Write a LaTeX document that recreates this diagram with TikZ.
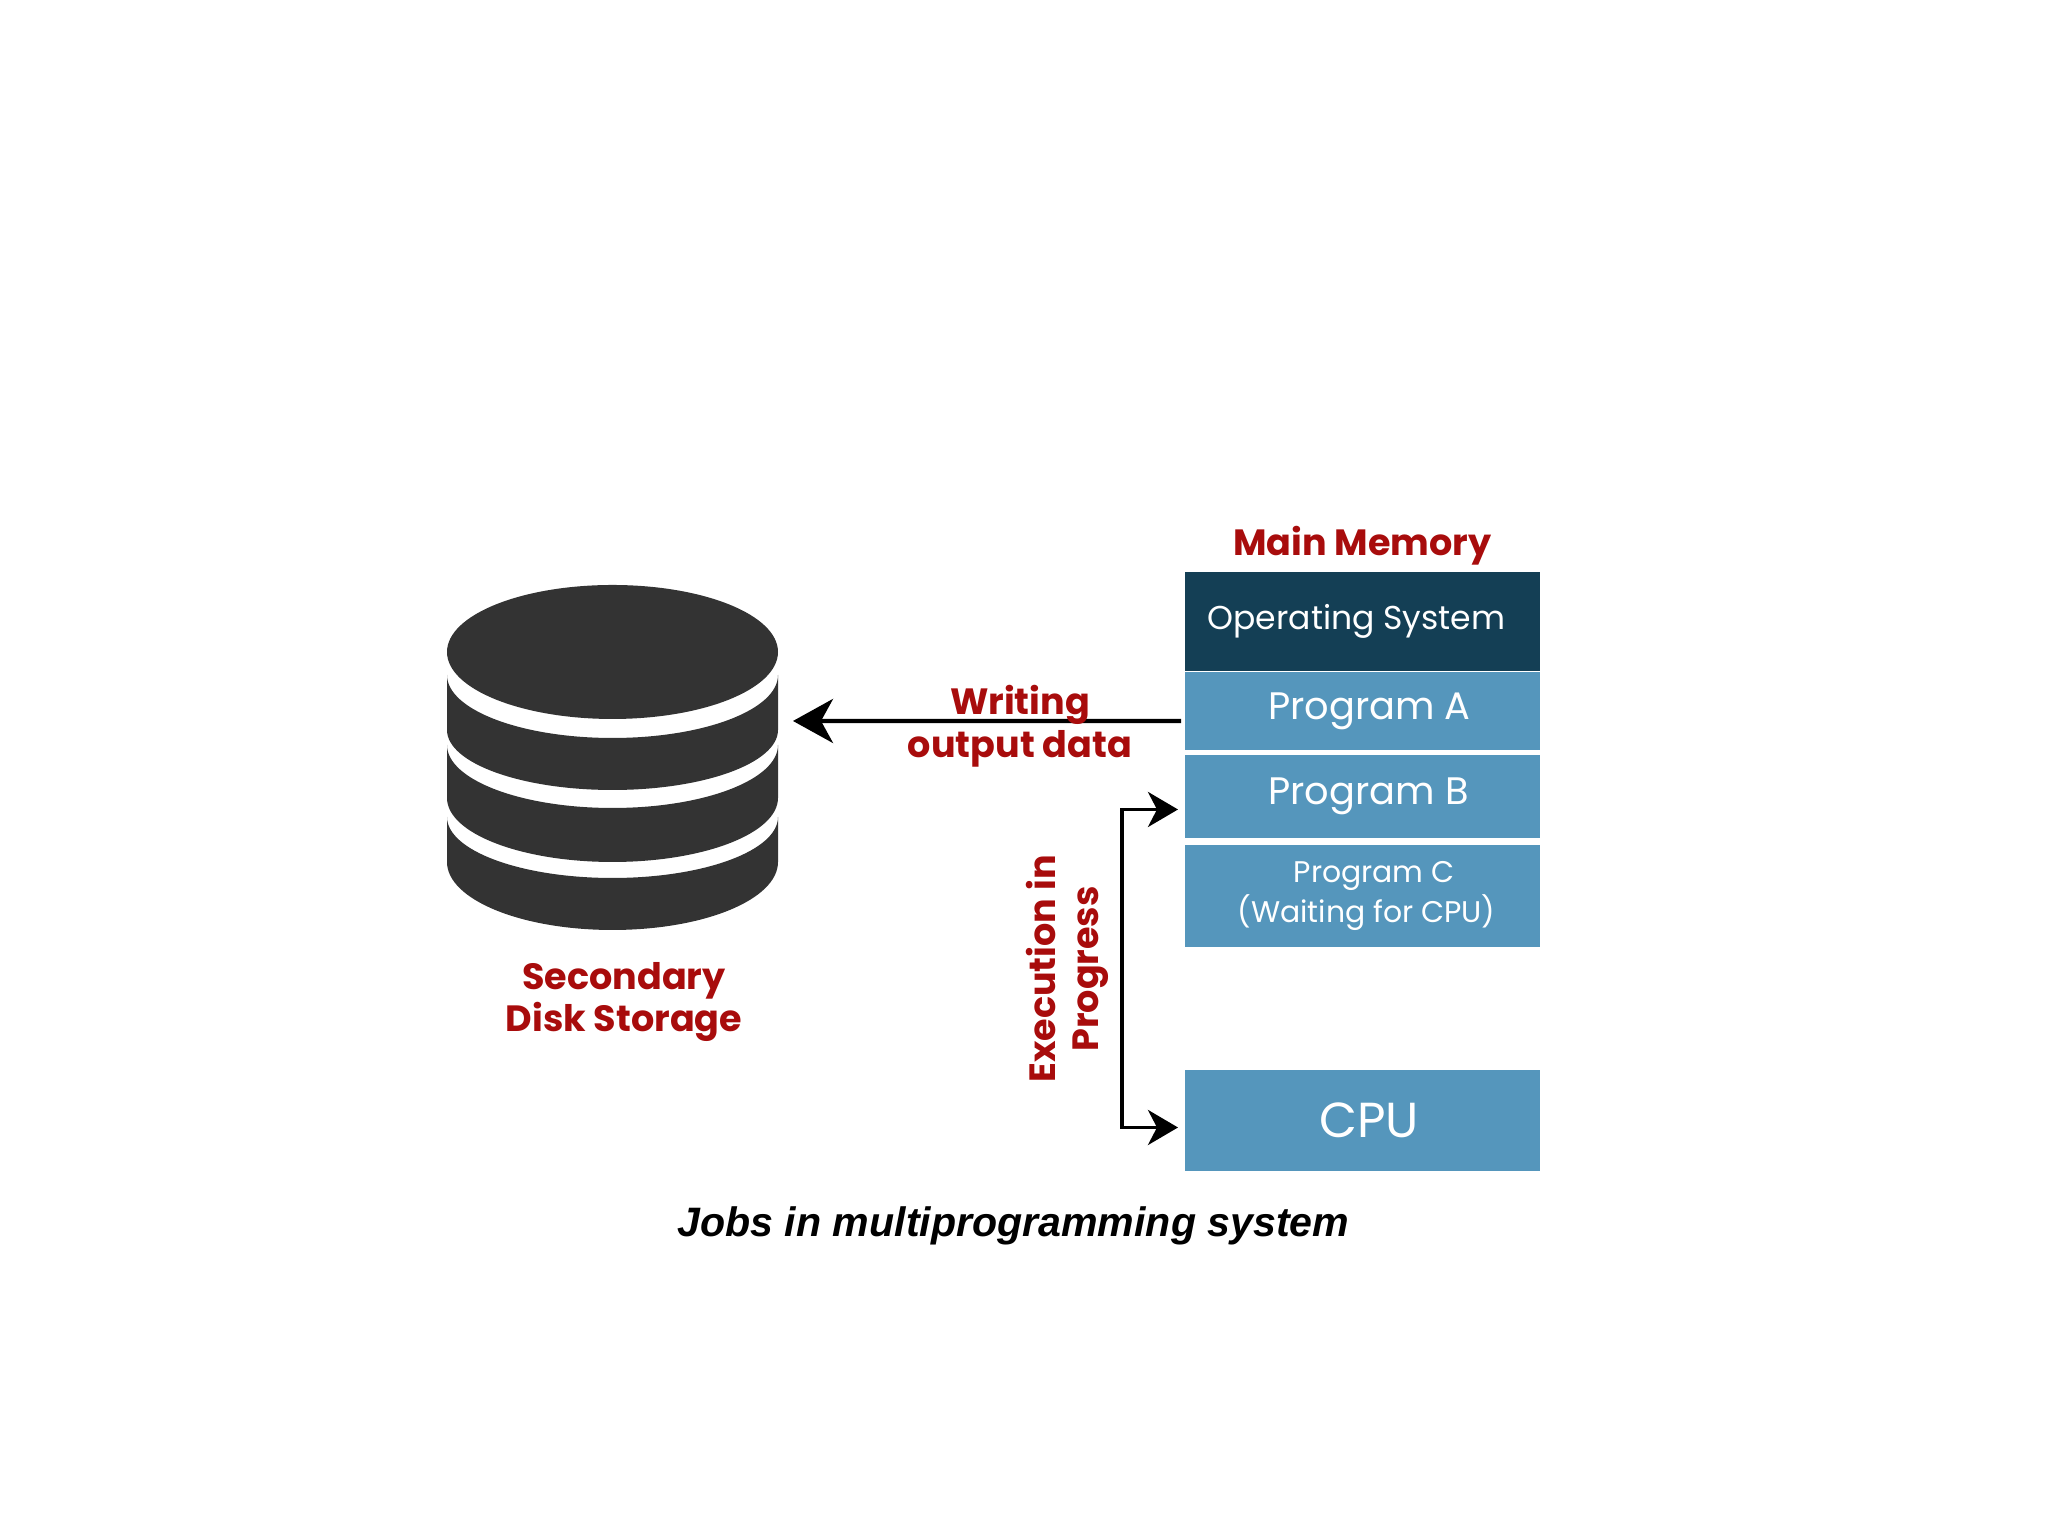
\documentclass[tikz,border=0pt]{standalone}
\usepackage{fontspec}
\setmainfont{Poppins}
\newfontfamily\captionfont{Liberation Sans}
\usetikzlibrary{positioning,arrows.meta}
\definecolor{DiskGrey}{HTML}{333333}
\definecolor{SysNavy}{HTML}{143F55}
\definecolor{ProgBlue}{HTML}{5596BC}
\definecolor{LabelRed}{HTML}{A80C0C}
\begin{document}
\begin{tikzpicture}[
          box/.style={fill=ProgBlue,text=white,minimum width=3.55cm,
                      inner sep=0pt,outer sep=0pt,align=center,
                      font=\fontsize{10.9}{12.2}\selectfont},
          lbl/.style={text=LabelRed,align=center,inner sep=0pt,
                      font=\fontsize{10.4}{12.2}\selectfont\bfseries},
          ar/.style={line width=1.1pt,black}]
        \useasboundingbox (0,0) rectangle (20.48,15.36);
        % disk stack
        \fill[DiskGrey] (6.125,8.84) ellipse [x radius=1.655,y radius=.67];
        \foreach \ya/\yb/\ra/\rb in {8.61/8.06/.63/.60,7.91/7.38/.63/.64,7.19/6.74/.61/.68}
          \fill[DiskGrey] (4.47,\ya) arc[start angle=180,end angle=360,x radius=1.655,y radius=\ra]
            -- (7.78,\yb) arc[start angle=360,end angle=180,x radius=1.655,y radius=\rb] -- cycle;
        \node[lbl] (disklbl) at (6.24,5.34) {Secondary\\Disk Storage};
        % memory boxes
        \node[box,fill=SysNavy,minimum height=.99cm,font=\fontsize{9.4}{12}\selectfont] (os) at (13.625,9.145) {Operating System\hspace*{.12cm}};
        \node[box,below=.01cm of os,minimum height=.78cm] (proga) {\raisebox{-.05cm}{\hspace*{.14cm}Program A}};
        \node[box,below=.05cm of proga,minimum height=.83cm] (progb) {\raisebox{-.04cm}{\hspace*{.12cm}Program B}};
        \node[box,below=.07cm of progb,minimum height=1.02cm,font=\fontsize{8.5}{8.6}\selectfont] (progc) {\hspace*{.235cm}Program C\\\hspace*{.08cm}(Waiting for CPU)};
        \node[box,below=1.23cm of progc,minimum height=1.01cm,font=\fontsize{14}{14}\selectfont] (cpu) {\hspace*{.13cm}CPU};
        \node[lbl,above=.06cm of os] (memlbl) {Main Memory};
        % connectors
        \coordinate (diskend) at (7.93,8.15);
        \draw[ar,line width=1.2pt,-{Stealth[length=.40cm,width=.44cm,inset=.12cm]}]
            ([shift={(-.04,-.10)}]proga.west) -- (diskend);
        \draw[ar,{Stealth[length=.30cm,width=.35cm,inset=.09cm]}-{Stealth[length=.30cm,width=.35cm,inset=.09cm]}]
            ([shift={(-.07,-.13)}]progb.west) -- ++(-.56,0) |- ([shift={(-.07,-.07)}]cpu.west);
        \node[lbl] (writelbl) at (10.2,8.10) {Writing\\output data};
        \node[lbl,rotate=90] (execlbl) at (10.67,5.67) {Execution in\\Progress};
        \node[inner sep=0pt,font=\captionfont\fontsize{11.7}{12}\selectfont\bfseries\itshape] (title) at (10.135,3.10) {Jobs in multiprogramming system};
      \end{tikzpicture}
\end{document}
